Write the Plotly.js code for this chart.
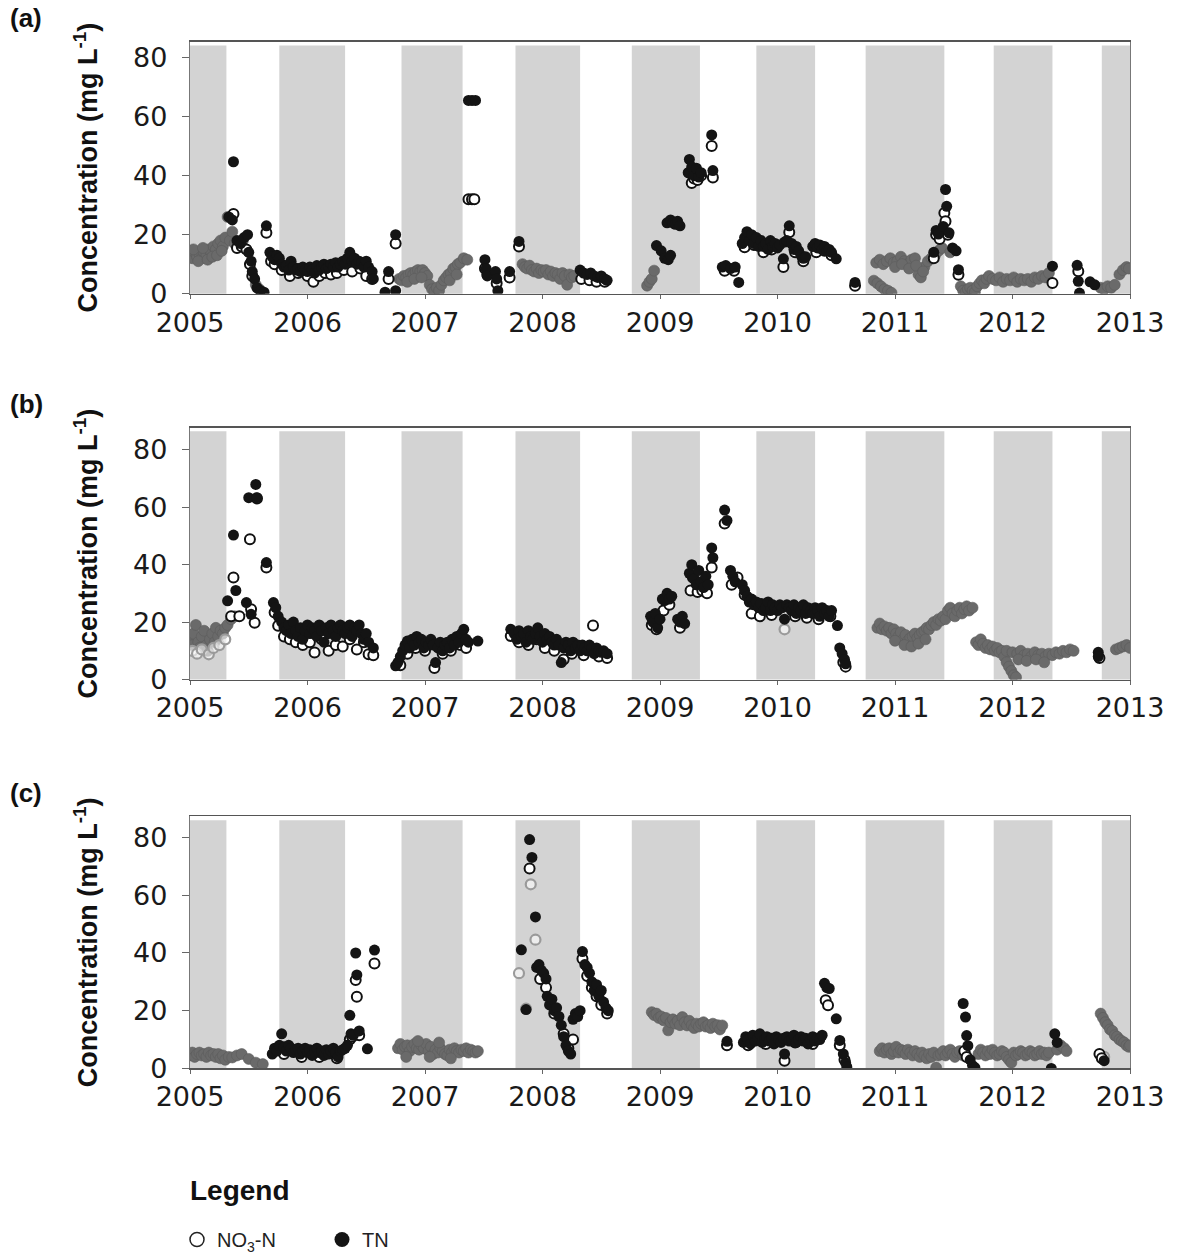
<!DOCTYPE html>
<html><head><meta charset="utf-8">
<script src="https://cdn.plot.ly/plotly-3.0.1.min.js"></script>
<style>html,body{margin:0;padding:0;background:#fff}#chart{width:1179px;height:1259px}</style>
</head><body><div id="chart"></div>
<script>
// ---------------- data (decimal year, mg/L) ----------------
const yearTicks = [2005, 2006, 2007, 2008, 2009, 2010, 2011, 2012, 2013];
const concTicks = [0, 20, 40, 60, 80];
const panelLabels = ['(a)', '(b)', '(c)'];
const seriesNames = ['NO<sub>3</sub>-N', 'TN'];
// shaded seasons [start, end]
const bands = [[2005.00,2005.31],[2005.76,2006.32],[2006.80,2007.32],[2007.77,2008.32],[2008.76,2009.34],[2009.82,2010.32],[2010.75,2011.42],[2011.84,2012.34],[2012.76,2013.00]];

// ---- panel (a)
const aTN = [[2005.33,26],[2005.36,25],[2005.37,44.7],[2005.40,18],[2005.43,17],[2005.46,19],[2005.49,20],[2005.50,14],[2005.52,11],[2005.53,7.5],[2005.55,5],[2005.57,2],[2005.60,1],[2005.63,0.5],[2005.65,23],[2005.68,14],[2005.70,12.5],[2005.72,11.5],[2005.74,13],[2005.76,12],[2005.78,10],[2005.80,9],
[2005.82,9.5],[2005.84,8],[2005.86,11],[2005.88,9],[2005.90,8],[2005.92,8.5],[2005.94,7.5],[2005.96,9],[2005.98,8],[2006.00,7.5],[2006.02,9],[2006.04,8],[2006.06,7],[2006.08,9.5],[2006.10,8],[2006.12,9],[2006.14,10],[2006.16,8.5],[2006.18,9],[2006.20,10],[2006.22,9],[2006.24,10.5],[2006.26,9],[2006.28,10],[2006.30,11],[2006.32,10],[2006.34,12],[2006.36,14],[2006.38,11],[2006.40,12],[2006.42,10],[2006.44,11],[2006.46,10.5],[2006.48,9],[2006.50,11],[2006.52,9],[2006.55,7.5],[2006.56,5],
[2006.66,0.5],[2006.69,7.5],[2006.75,20],[2006.75,1],[2007.37,65.5],[2007.40,65.5],[2007.43,65.5],[2007.51,11.5],[2007.52,8.5],[2007.53,6],[2007.60,7.5],[2007.61,5],[2007.62,1],[2007.72,7.5],[2007.80,17.7],
[2008.32,8],[2008.35,7],[2008.38,6.5],[2008.41,7],[2008.44,6],[2008.47,5.5],[2008.50,6],[2008.53,5],[2008.55,4.5],
[2008.97,16.3],[2009.01,14.5],[2009.04,12],[2009.07,11.5],[2009.09,13],[2009.06,24],[2009.09,25],[2009.11,24],[2009.13,23.5],[2009.15,24.5],[2009.17,23],
[2009.24,41],[2009.25,45.5],[2009.27,43],[2009.29,40],[2009.31,42.5],[2009.33,39.5],[2009.35,41],[2009.44,53.8],[2009.45,41.7],
[2009.53,9],[2009.56,9.5],[2009.60,8.5],[2009.64,9],[2009.67,3.8],
[2009.70,17],[2009.72,19],[2009.74,21],[2009.76,18],[2009.78,20],[2009.80,17],[2009.82,19],[2009.84,16],[2009.86,18],[2009.88,16],[2009.90,17],[2009.92,15],[2009.94,18],[2009.96,16],[2009.98,17],[2010.00,15.5],[2010.02,16.5],[2010.05,11.8],[2010.06,17.5],[2010.08,18],[2010.10,23],[2010.12,17],[2010.14,15],[2010.16,16],[2010.18,14.5],[2010.20,13],[2010.22,12],[2010.24,12.5],[2010.30,16],[2010.32,17],[2010.34,15.5],[2010.36,16.5],[2010.38,15],[2010.40,16],[2010.42,14.5],[2010.44,15],[2010.46,14],[2010.50,11.8],[2010.66,3.8],
[2011.33,14],[2011.35,21.4],[2011.37,20.2],[2011.41,22.8],[2011.43,35.3],[2011.44,29.6],[2011.46,20.6],[2011.49,15.5],[2011.52,14.5],[2011.54,8.1],
[2012.34,9.3],[2012.55,9.6],[2012.56,4.2],[2012.57,0.2],[2012.66,4],[2012.70,3]];
const aNO3 = [[2005.37,27],[2005.40,15.5],[2005.44,16],[2005.48,15],[2005.51,10],[2005.53,6],[2005.65,20.6],[2005.69,11],[2005.72,10],[2005.78,8],[2005.85,6],[2005.92,7],[2006.00,6],[2006.05,4],[2006.10,6],[2006.15,7],[2006.20,6.5],[2006.25,7],[2006.31,8],[2006.38,7.5],[2006.45,8.5],[2006.50,6],[2006.55,5],[2006.69,5],[2006.75,17],[2007.37,32],[2007.40,32],[2007.42,32],[2007.51,8.5],[2007.53,6.5],[2007.61,3.5],[2007.72,5.5],[2007.80,16],[2008.33,5],[2008.40,4.5],[2008.46,4],[2008.53,4],
[2009.25,41],[2009.27,37.5],[2009.29,39],[2009.32,38.5],[2009.35,40],[2009.44,50],[2009.45,39.4],[2009.55,7.8],[2009.63,7.8],[2009.72,15.7],[2009.80,16.5],[2009.88,14],[2009.95,15],[2010.05,9],[2010.10,20.8],[2010.15,14],[2010.22,11],[2010.33,14],[2010.40,14.5],[2010.46,13],[2010.66,2.7],[2011.33,12],[2011.35,20],[2011.38,18.5],[2011.42,27.3],[2011.43,24.5],[2011.45,20],[2011.54,6.4],[2012.34,3.6],[2012.56,7.6]];
const aGray = [[2005.00,13],[2005.02,12],[2005.04,14],[2005.06,12.5],[2005.08,13.5],[2005.10,12],[2005.12,14],[2005.14,13],[2005.16,15],[2005.18,14],[2005.20,16],[2005.22,15],[2005.24,17],[2005.26,18],[2005.28,16],[2005.30,19],[2005.32,26],[2005.34,18],[2005.36,21],[2005.38,17],[2005.42,16],[2005.45,18],[2005.56,3],[2005.59,1.5],
[2005.03,15],[2005.07,11],[2005.11,15.5],[2005.15,11.5],[2005.19,12.5],[2005.23,13],[2005.27,14.5],
[2006.78,5],[2006.80,4.5],[2006.82,6],[2006.84,5.5],[2006.86,6.5],[2006.88,7],[2006.90,6.5],[2006.92,7.5],[2006.94,8],[2006.96,7.5],[2006.98,8],[2007.00,7],[2007.02,6],[2007.04,3],[2007.06,1.5],[2007.08,0.8],[2007.10,2],[2007.12,1],[2007.14,3],[2007.16,4.5],[2007.18,5.5],[2007.20,6.5],[2007.22,7],[2007.24,8.5],[2007.26,9],[2007.28,10],[2007.30,10.5],[2007.33,12],[2007.36,11.5],
[2006.85,4],[2006.91,5],[2006.97,5.5],[2007.21,4.5],[2007.27,6.5],
[2007.83,10],[2007.85,9],[2007.87,8.5],[2007.89,9.5],[2007.91,8],[2007.93,7.5],[2007.95,8.5],[2007.97,7],[2007.99,8],[2008.01,7.5],[2008.03,8],[2008.05,6.5],[2008.07,7.5],[2008.09,6],[2008.11,7],[2008.13,6.5],[2008.15,5],[2008.17,7],[2008.19,6],[2008.21,3],[2008.23,6.5],[2008.25,5.5],[2008.27,6],
[2008.89,2.7],[2008.91,4],[2008.93,5],[2008.95,7.8],
[2010.82,4.4],[2010.85,3.5],[2010.88,2.5],[2010.91,1.5],[2010.94,1],[2010.97,0.3],
[2010.84,10.5],[2010.87,11.5],[2010.90,10],[2010.93,11],[2010.96,12],[2010.99,10.5],[2011.02,11],[2011.05,12.5],[2011.08,11],[2011.11,10],[2011.14,11.5],[2011.17,12],[2011.20,6.5],[2011.22,5.5],[2011.25,9],[2011.28,11],[2011.31,12],[2011.34,13],[2011.37,14.5],[2011.40,15.5],[2011.47,14],
[2011.00,9],[2011.06,10],[2011.12,8.5],[2011.18,9.5],[2011.24,7.5],
[2011.56,2.5],[2011.58,1],[2011.60,0.5],[2011.62,1.5],[2011.64,2],[2011.66,1],[2011.68,0.5],[2011.70,2.5],[2011.72,3.5],[2011.74,4.5],[2011.76,3.5],[2011.78,5],[2011.80,6],[2011.83,5],[2011.86,4.5],[2011.89,5.5],[2011.92,4],[2011.95,5],[2011.98,4.5],[2012.01,5.5],[2012.04,4],[2012.07,5],[2012.10,4.5],[2012.13,5],[2012.16,4],[2012.19,5.5],[2012.22,5],[2012.25,6],[2012.28,5.5],[2012.31,7],
[2012.75,2],[2012.78,1.5],[2012.81,2.5],[2012.84,2],[2012.87,3],[2012.91,6.5],[2012.94,8],[2012.97,9],[2012.99,8.5]];
const aGrayOpen = [];

// ---- panel (b)
const bTN = [[2005.32,27.4],[2005.37,50.3],[2005.39,31],[2005.48,26.8],[2005.50,63.3],[2005.52,22.7],[2005.56,67.9],[2005.57,63.3],[2005.65,40.7],[2005.71,26.8],[2005.73,25],[2005.75,22],
[2005.78,20],[2005.80,18],[2005.82,17],[2005.84,19],[2005.86,16],[2005.88,20],[2005.90,17],[2005.92,15],[2005.94,18],[2005.96,14],[2005.98,17],[2006.00,19],[2006.02,16],[2006.04,18],[2006.06,17],[2006.08,15],[2006.10,19],[2006.12,17],[2006.14,13],[2006.16,18],[2006.18,16],[2006.20,19],[2006.22,17],[2006.24,15],[2006.26,18],[2006.28,19],[2006.30,17],[2006.32,16],[2006.34,18],[2006.36,19],[2006.38,15],[2006.40,18],[2006.42,17],[2006.44,19],[2006.46,16],[2006.48,14],[2006.50,16],[2006.52,13],[2006.56,11],
[2006.75,4.8],[2006.77,6],[2006.79,8],[2006.81,10],[2006.83,12],[2006.85,13.4],[2006.87,11],[2006.89,14],[2006.91,12],[2006.93,15],[2006.95,13],[2006.97,14],[2006.99,11],[2007.01,13],[2007.03,12],[2007.05,14],[2007.07,12],[2007.09,5.9],[2007.11,11],[2007.13,13],[2007.15,10],[2007.17,12],[2007.19,13],[2007.21,11],[2007.23,14],[2007.25,12],[2007.27,15],[2007.29,13],[2007.31,16],[2007.33,17.5],[2007.35,14],[2007.37,13],[2007.45,13.4],
[2007.73,17.5],[2007.76,16],[2007.78,14],[2007.80,17],[2007.82,15],[2007.84,16],[2007.86,13],[2007.88,17],[2007.90,15],[2007.92,14],[2007.94,16],[2007.96,18],[2007.98,15],[2008.00,13],[2008.02,16],[2008.04,14],[2008.06,15],[2008.08,13],[2008.10,12],[2008.12,14],[2008.14,12],[2008.16,5.9],[2008.18,11],[2008.20,13],[2008.22,12],[2008.24,10],[2008.26,13],[2008.28,11],[2008.30,12],[2008.32,10],[2008.34,12],[2008.36,11],[2008.38,10],[2008.40,12],[2008.42,11],[2008.44,9],[2008.46,11],[2008.48,10],[2008.50,9.5],[2008.52,10],[2008.55,9],
[2008.92,22],[2008.94,20],[2008.96,23],[2008.98,18],[2009.00,21],[2009.02,28],[2009.04,27.5],[2009.06,30],[2009.08,28],[2009.10,29],[2009.15,21],[2009.17,20],[2009.19,22],[2009.21,19.5],[2009.25,37],[2009.27,40],[2009.29,35],[2009.31,33],[2009.33,38],[2009.35,34],[2009.37,32],[2009.39,36],[2009.41,33],[2009.44,45.8],[2009.45,42.4],[2009.55,59],[2009.57,55.4],[2009.60,38],[2009.62,36],[2009.64,34],
[2009.70,33],[2009.72,31],[2009.74,29],[2009.76,27],[2009.78,28],[2009.80,26],[2009.82,27],[2009.84,25],[2009.86,26.5],[2009.88,24],[2009.90,25],[2009.92,27],[2009.94,24],[2009.96,26],[2009.98,25],[2010.00,24],[2010.02,26],[2010.04,25],[2010.06,21],[2010.08,26],[2010.10,25],[2010.12,24],[2010.14,26],[2010.16,23],[2010.18,25],[2010.20,24],[2010.22,26],[2010.24,23],[2010.26,25],[2010.28,24],[2010.30,23],[2010.32,25],[2010.34,24],[2010.36,22],[2010.38,25],[2010.40,23],[2010.42,24],[2010.44,22],[2010.46,24],[2010.51,18.8],[2010.53,11],[2010.55,9],[2010.57,7],[2010.58,5.5],
[2012.73,9.5],[2012.73,8]];
const bNO3 = [[2005.35,22],[2005.37,35.5],[2005.42,22],[2005.51,48.8],[2005.52,24.5],[2005.55,19.8],[2005.57,63],[2005.65,39],[2005.72,23.3],[2005.75,18.7],[2005.80,15],[2005.85,14],[2005.90,13],[2005.96,12],[2006.02,13],[2006.06,9.4],[2006.12,14],[2006.18,10],[2006.24,12],[2006.30,11.5],[2006.36,14],[2006.42,10.5],[2006.48,13],[2006.52,8.8],[2006.56,8.5],
[2006.79,5],[2006.85,9],[2006.92,11],[2007.00,10],[2007.08,4],[2007.15,9],[2007.22,10],[2007.30,12],[2007.35,11],
[2007.73,15.2],[2007.80,13],[2007.88,12],[2007.95,14],[2008.02,11],[2008.10,10],[2008.18,7],[2008.25,9],[2008.35,8.5],[2008.43,18.8],[2008.48,8],[2008.55,7.5],
[2008.93,19],[2008.97,17.5],[2009.03,24],[2009.08,26],[2009.17,18],[2009.26,31],[2009.28,35.5],[2009.32,30.5],[2009.36,31],[2009.40,30],[2009.44,39],[2009.55,54.3],[2009.61,33],[2009.66,35.5],[2009.72,29.5],[2009.78,23],[2009.85,22],[2009.95,22.5],[2010.15,22],[2010.25,21.5],[2010.35,21],[2010.45,22],[2010.56,6],[2010.58,4.5],[2012.74,7.5]];
const bGray = [[2005.00,14],[2005.02,12],[2005.03,16],[2005.05,19],[2005.07,13],[2005.08,11],[2005.10,15],[2005.12,17],[2005.14,12],[2005.15,10],[2005.17,14],[2005.19,16],[2005.21,13],[2005.22,18],[2005.24,15],[2005.26,17],[2005.28,16],[2005.30,18],[2005.32,19],[2005.35,21],[2005.38,22],
[2010.85,18],[2010.87,19.5],[2010.89,17.5],[2010.91,18.5],[2010.93,17],[2010.95,18],[2010.97,16],[2010.99,17.5],[2011.01,16],[2011.03,15],[2011.05,16.5],[2011.07,14],[2011.09,15.5],[2011.11,13.5],[2011.13,14.5],[2011.15,15],[2011.17,16],[2011.19,14.5],[2011.21,15.5],[2011.23,16.5],[2011.25,17],[2011.27,18],[2011.29,17.5],[2011.31,19],[2011.33,20],[2011.35,19],[2011.37,21],[2011.39,20.5],[2011.41,22],[2011.43,21],[2011.45,24],[2011.47,25],[2011.49,23],[2011.51,22],[2011.53,24],[2011.55,25],[2011.57,23],[2011.59,24.5],[2011.61,25.5],[2011.63,24],[2011.66,25],
[2011.00,13.5],[2011.08,12],[2011.14,11.5],[2011.20,12.5],[2011.26,14],
[2011.69,13],[2011.71,12],[2011.73,14],[2011.75,12.5],[2011.77,11],[2011.79,12],[2011.81,10.5],[2011.83,11.5],[2011.85,10],[2011.87,11],[2011.89,9.5],[2011.91,10],[2011.93,8],[2011.95,6],[2011.97,4.5],[2011.99,3],[2012.01,1.5],[2012.03,0.8],[2011.95,10],[2012.00,9.5],[2012.04,9],[2012.07,10],[2012.10,8.5],[2012.13,9],[2012.16,8],[2012.19,9.5],[2012.22,8.5],[2012.25,9],[2012.28,8],[2012.31,9],[2012.34,8.5],[2012.37,9.5],[2012.40,9],[2012.43,10],[2012.46,9.5],[2012.49,10.5],[2012.52,10],
[2012.05,7],[2012.12,6.5],[2012.20,7],[2012.27,6],
[2012.88,10.5],[2012.91,11],[2012.94,11.5],[2012.97,12],[2013.00,11]];
const bGrayOpen = [[2005.02,10],[2005.06,9],[2005.10,10.5],[2005.16,8.8],[2005.20,11],[2005.25,12],[2005.30,14],[2010.06,17.5]];

// ---- panel (c)
const cTN = [[2005.70,5],[2005.72,7],[2005.74,6],[2005.76,8],[2005.78,12],[2005.80,7.5],[2005.82,6],[2005.84,8],[2005.86,7],[2005.88,5.5],[2005.90,6.5],[2005.92,7],[2005.94,5],[2005.96,6],[2005.98,7],[2006.00,5.5],[2006.02,6.5],[2006.04,4.5],[2006.06,6],[2006.08,7],[2006.10,5.5],[2006.12,6],[2006.14,4.5],[2006.16,6.5],[2006.18,5],[2006.20,6],[2006.22,7],[2006.24,5.5],[2006.26,4],[2006.28,6],[2006.30,6.5],[2006.32,7],[2006.34,8],[2006.36,18.4],[2006.37,12],[2006.39,11.5],[2006.41,40],[2006.42,32.4],[2006.44,13],[2006.51,6.8],[2006.57,41],
[2007.82,41.1],[2007.86,20.4],[2007.89,79.3],[2007.91,73.1],[2007.94,52.5],[2007.95,35],[2007.97,36],[2007.99,34],[2008.01,33],[2008.03,31],[2008.04,25],[2008.06,22],[2008.08,24],[2008.10,20],[2008.12,21],[2008.14,18],[2008.16,15],[2008.18,11],[2008.20,8],[2008.22,6],[2008.24,5],[2008.26,17],[2008.28,19],[2008.30,18],[2008.32,20],[2008.34,40.5],[2008.36,36],[2008.38,35],[2008.40,33],[2008.42,30],[2008.44,27],[2008.46,29],[2008.48,25],[2008.50,27],[2008.52,23],[2008.54,21],[2008.56,20],
[2009.57,9.4],[2009.71,9],[2009.73,11],[2009.75,10],[2009.77,8.5],[2009.79,11.5],[2009.81,9.5],[2009.83,10.5],[2009.85,12],[2009.87,9],[2009.89,10],[2009.91,11],[2009.93,9.5],[2009.95,10.5],[2009.97,8.5],[2009.99,11],[2010.01,10],[2010.03,9],[2010.05,10.5],[2010.06,5],[2010.08,11],[2010.10,9.5],[2010.12,10],[2010.14,11.5],[2010.16,9],[2010.18,10],[2010.20,11],[2010.22,9.5],[2010.24,10.5],[2010.26,8.5],[2010.28,10],[2010.30,11],[2010.32,9.5],[2010.34,10.5],[2010.36,10],[2010.38,11.5],[2010.40,29.5],[2010.42,28],[2010.44,27.7],[2010.50,17.2],[2010.53,9.7],[2010.56,5],[2010.58,2],[2010.59,0.5],
[2011.58,22.5],[2011.60,17.8],[2011.61,11.4],[2011.62,7.9],[2011.64,3],[2011.66,1],[2011.68,0.3],[2012.33,0],[2012.36,12],[2012.38,9],[2012.78,2.7]];
const cNO3 = [[2005.80,5],[2005.95,4],[2006.10,4],[2006.25,3.5],[2006.36,10],[2006.38,11],[2006.41,30.6],[2006.42,24.8],[2006.44,11.5],[2006.57,36.4],
[2007.89,69.3],[2007.98,31],[2008.03,28],[2008.10,19],[2008.18,12],[2008.22,7],[2008.26,10],[2008.34,38],[2008.38,32],[2008.42,28],[2008.46,25],[2008.50,22],[2008.55,19],
[2009.57,8],[2009.75,8],[2009.90,8.5],[2010.06,2.7],[2010.15,9],[2010.30,8.5],[2010.41,23.6],[2010.43,21.9],[2010.53,8],[2010.57,3],[2011.59,6],[2011.61,4],[2012.74,5],[2012.76,3.5]];
const cGray = [[2005.00,4.5],[2005.02,5.5],[2005.04,4],[2005.06,5],[2005.08,5.5],[2005.10,4.5],[2005.12,5],[2005.14,4],[2005.16,5.5],[2005.18,4.5],[2005.20,5],[2005.22,4],[2005.24,5],[2005.26,3.5],[2005.28,4.5],[2005.30,3],[2005.33,4],[2005.36,3.8],[2005.40,4.5],[2005.44,5],[2005.50,3.3],[2005.56,2],[2005.62,1.5],
[2006.77,7],[2006.79,8.5],[2006.81,6.5],[2006.83,7.5],[2006.85,8],[2006.87,6],[2006.89,7.5],[2006.91,8.5],[2006.93,7],[2006.95,6.5],[2006.97,8],[2006.99,7],[2007.01,8.5],[2007.03,6],[2007.05,7.5],[2007.07,5],[2007.09,6.5],[2007.11,5.5],[2007.13,7],[2007.15,6],[2007.17,5],[2007.19,4.5],[2007.21,6.5],[2007.23,5.5],[2007.25,7],[2007.27,6],[2007.29,5.5],[2007.31,6.5],[2007.33,6],[2007.35,7],[2007.37,5.5],[2007.39,6.5],[2007.41,6],[2007.43,5.5],[2007.45,6],
[2006.84,4],[2006.94,9.5],[2007.04,4],[2007.12,9],[2007.22,3.5],
[2008.93,19.5],[2008.95,18.5],[2008.97,19],[2008.99,17.5],[2009.01,18],[2009.03,16.7],[2009.05,17.5],[2009.07,13.2],[2009.09,16],[2009.11,17],[2009.13,15.5],[2009.15,16.5],[2009.17,15],[2009.19,17.8],[2009.21,16],[2009.23,14.9],[2009.25,16.5],[2009.27,15],[2009.29,14],[2009.31,15.5],[2009.33,14.5],[2009.35,15.5],[2009.37,16],[2009.39,14.5],[2009.41,15],[2009.43,14],[2009.45,15.5],[2009.47,14.5],[2009.49,15],[2009.51,13.5],[2009.53,14.9],
[2010.87,6],[2010.89,7],[2010.91,5.5],[2010.93,6.5],[2010.95,7],[2010.97,5],[2010.99,6],[2011.01,7.5],[2011.03,5.5],[2011.05,6.5],[2011.07,6],[2011.09,5],[2011.11,6.5],[2011.13,5.5],[2011.15,4.5],[2011.17,6],[2011.19,5],[2011.21,4],[2011.23,5.5],[2011.25,4.5],[2011.27,3.5],[2011.29,5],[2011.31,4],[2011.33,5.5],[2011.35,0.3],[2011.37,4.5],[2011.39,5],[2011.41,6],[2011.43,4.5],[2011.45,5.5],[2011.47,6.5],[2011.49,5],[2011.51,4],[2011.53,5.5],[2011.55,6],[2011.58,4.5],[2011.60,5],
[2011.71,5],[2011.73,6.5],[2011.75,5.5],[2011.77,4.5],[2011.79,6],[2011.81,5],[2011.83,6.5],[2011.85,5.5],[2011.87,4.5],[2011.89,5],[2011.91,6],[2011.93,5.5],[2011.95,4],[2011.97,3],[2011.99,2],[2012.01,5.5],[2012.03,4.5],[2012.05,5],[2012.07,6],[2012.09,5.5],[2012.11,4.5],[2012.13,5],[2012.15,6],[2012.17,5.5],[2012.19,4.5],[2012.21,5],[2012.23,6],[2012.25,5],[2012.27,5.5],[2012.29,4.5],[2012.31,5.5],[2012.38,6.5],[2012.41,8],[2012.44,7],[2012.46,6],
[2012.75,19],[2012.77,17.5],[2012.79,16],[2012.81,15],[2012.83,13.5],[2012.85,13],[2012.87,11.5],[2012.89,11],[2012.91,10],[2012.93,9.5],[2012.95,9],[2012.97,8],[2012.99,7.5],[2013.00,8]];
const cGrayOpen = [[2007.80,33],[2007.86,20.7],[2007.90,63.8],[2007.94,44.6],[2012.78,4]];

// ---------------- layout helpers ----------------
const W = 1179, H = 1259;
const plotLeft = 190, plotRight = 1130;
const panels = [
  {tn:aTN, no3:aNO3, gray:aGray, grayOpen:aGrayOpen, top:42, bottom:296, ymax:85.4},
  {tn:bTN, no3:bNO3, gray:bGray, grayOpen:bGrayOpen, top:431, bottom:685, ymax:87.7},
  {tn:cTN, no3:cNO3, gray:cGray, grayOpen:cGrayOpen, top:823, bottom:1077, ymax:87.3}
];
const px = a => a.map(p => p[0]);
const py = a => a.map(p => p[1]);
const FONT = 'Liberation Sans, Arial, sans-serif';
const TICKFONT = 'DejaVu Sans, Liberation Sans, sans-serif';

const NO3_MARK = {symbol: 'circle', size: 10, color: '#ffffff', line: {color: '#111', width: 2}};
const TN_MARK = {symbol: 'circle', size: 11, color: '#141414', line: {width: 0}};

const traces = [];
const layout = {
  width: W, height: H,
  margin: {l:0, r:0, t:0, b:0},
  paper_bgcolor: '#fff', plot_bgcolor: '#fff',
  font: {family: FONT, color: '#1a1a1a'},
  showlegend: true,
  legend: {
    orientation: 'h', x: 177 / W, y: 1 - 1230 / H, xanchor: 'left', yanchor: 'top',
    font: {size: 20, family: FONT, color: '#222'},
    entrywidth: 100, entrywidthmode: 'pixels',
    itemwidth: 30, tracegroupgap: 0, bgcolor: 'rgba(0,0,0,0)'
  },
  shapes: [],
  annotations: [{
    text: '<b>Legend</b>', xref: 'paper', yref: 'paper', x: 188 / W, y: 1 - 1200 / H,
    xanchor: 'left', yanchor: 'middle', showarrow: false,
    font: {size: 28, family: FONT, color: '#111'}
  }]
};

panels.forEach((p, i) => {
  const n = i === 0 ? '' : String(i + 1);
  const xa = 'x' + n, ya = 'y' + n;
  layout['xaxis' + n] = {
    domain: [plotLeft / W, plotRight / W], anchor: ya,
    range: [2005, 2013], tickvals: yearTicks, ticktext: yearTicks.map(String),
    ticks: 'outside', ticklen: 4, tickcolor: '#666',
    tickfont: {size: 27, family: TICKFONT, color: '#1a1a1a'},
    showgrid: false, zeroline: false, showline: true, mirror: true,
    linecolor: '#555', linewidth: 1.5, fixedrange: true
  };
  layout['yaxis' + n] = {
    domain: [1 - p.bottom / H, 1 - p.top / H], anchor: xa,
    range: [0, p.ymax], tickvals: concTicks,
    ticks: 'outside', ticklen: 7, tickcolor: '#666',
    ticklabelstandoff: 9,
    tickfont: {size: 27, family: TICKFONT, color: '#1a1a1a'},
    showgrid: false, zeroline: false, showline: true, mirror: true,
    linecolor: '#777', linewidth: 1.2, fixedrange: true,
    title: {text: '<b>Concentration (mg L<sup>-1</sup>)</b>', font: {size: 27, family: FONT, color: '#111'}, standoff: 27}
  };
  bands.forEach(b => layout.shapes.push({
    type: 'rect', xref: xa, yref: ya + ' domain', x0: b[0], x1: b[1], y0: 0, y1: 0.985,
    fillcolor: '#d3d3d3', line: {width: 0}, layer: 'below'
  }));
  layout.annotations.push({
    text: '<b>' + panelLabels[i] + '</b>', xref: 'paper', yref: 'paper',
    x: 8 / W, y: 1 - (p.top - 24) / H, xanchor: 'left', yanchor: 'middle',
    showarrow: false, font: {size: 26, family: FONT, color: '#111'}
  });
  traces.push({
    type: 'scatter', mode: 'markers', x: px(p.gray), y: py(p.gray), xaxis: xa, yaxis: ya,
    showlegend: false, hoverinfo: 'skip',
    marker: {symbol: 'circle', size: 11, color: '#6a6a6a', line: {color: '#5c5c5c', width: 0.6}}
  });
  traces.push({
    type: 'scatter', mode: 'markers', x: px(p.grayOpen), y: py(p.grayOpen), xaxis: xa, yaxis: ya,
    showlegend: false, hoverinfo: 'skip',
    marker: {symbol: 'circle', size: 10, color: 'rgba(255,255,255,0.6)', line: {color: '#9a9a9a', width: 2.2}}
  });
  traces.push({
    type: 'scatter', mode: 'markers', name: seriesNames[0],
    x: px(p.no3), y: py(p.no3), xaxis: xa, yaxis: ya, showlegend: false, marker: NO3_MARK
  });
  traces.push({
    type: 'scatter', mode: 'markers', name: seriesNames[1],
    x: px(p.tn), y: py(p.tn), xaxis: xa, yaxis: ya, showlegend: false, marker: TN_MARK
  });
});
// legend entries (no data of their own)
traces.push({type: 'scatter', mode: 'markers', name: seriesNames[0], x: [null], y: [null],
  marker: {symbol: 'circle', size: 14, color: '#fff', line: {color: '#222', width: 1.5}}});
traces.push({type: 'scatter', mode: 'markers', name: seriesNames[1], x: [null], y: [null],
  marker: {symbol: 'circle', size: 15, color: '#141414', line: {width: 0}}});

Plotly.newPlot('chart', traces, layout, {staticPlot: true, displayModeBar: false});
</script></body></html>
